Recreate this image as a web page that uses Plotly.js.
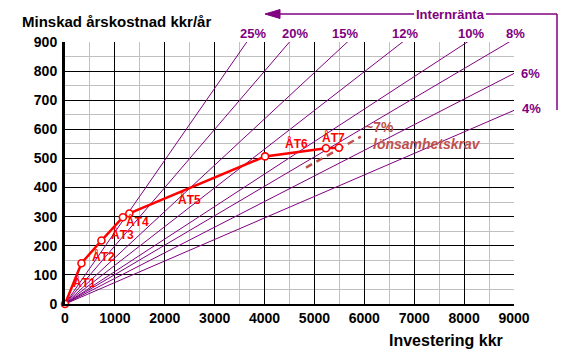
<!DOCTYPE html>
<html>
<head>
<meta charset="utf-8">
<script src="https://cdn.plot.ly/plotly-3.0.1.min.js"></script>
<style>html,body{margin:0;padding:0;background:#fff;}#chart{width:565px;height:360px;}</style>
</head>
<body>
<div id="chart"></div>
<script>
// ---- data ----
const invest = [0, 330, 730, 1160, 1290, 4010, 5230, 5490];      // kkr
const saving = [0, 140, 218, 298, 311, 507, 535, 537];           // kkr/år
const stepLabels = ['ÅT1', 'ÅT2', 'ÅT3', 'ÅT4', 'ÅT5', 'ÅT6', 'ÅT7'];
const rateLabels = ['25%', '20%', '15%', '12%', '10%', '8%', '6%', '4%'];
const rateSlopes = [0.247, 0.200, 0.159, 0.133, 0.1116, 0.1011, 0.088, 0.0739]; // kkr/år per kkr
const reqLabel = '~7%';
const reqText = 'lönsamhetskrav';
const reqSlope = 0.097;
const reqInvest = [4830, 5930];
const xTicks = [0, 1000, 2000, 3000, 4000, 5000, 6000, 7000, 8000, 9000];
const yTicks = [0, 100, 200, 300, 400, 500, 600, 700, 800, 900];
const xTitle = 'Investering kkr';
const yTitle = 'Minskad årskostnad kkr/år';
const arrowText = 'Internränta';

// ---- layout helpers (pixel -> paper) ----
const L = 65, R = 51, T = 42, B = 56, W = 565, H = 360;
const PW = W - L - R, PH = H - T - B;
const X = p => (p - L) / PW;
const Y = p => (H - B - p) / PH;

const purple = '#800080';
const red = '#ff0000';
const req = '#c0504d';
const FONT = 'Arial, "Liberation Sans", sans-serif';

const traces = [];
rateSlopes.forEach((s, i) => {
  traces.push({
    x: [0, 9000], y: [0, 9000 * s], mode: 'lines', type: 'scatter',
    line: {color: purple, width: 1}, hoverinfo: 'skip', showlegend: false
  });
});
traces.push({
  x: reqInvest, y: reqInvest.map(v => v * reqSlope), mode: 'lines', type: 'scatter',
  line: {color: req, width: 2.5, dash: '7px,5px'}, showlegend: false
});
traces.push({
  x: invest, y: saving, mode: 'lines+markers', type: 'scatter', cliponaxis: false,
  line: {color: red, width: 2.5},
  marker: {symbol: 'circle', size: 7, color: '#ffffff', line: {color: red, width: 1.6}},
  showlegend: false
});

const annotations = [];
const ann = (px, py, text, font, extra) => Object.assign({
  x: X(px), y: Y(py), xref: 'paper', yref: 'paper', xanchor: 'center', yanchor: 'middle',
  text: text, showarrow: false, font: font
}, extra || {});

const stepPos = [[400, 75], [768, 162], [1156, 239], [1457, 284], [2505, 359], [4643, 551], [5377, 573]];
stepLabels.forEach((t, i) => {
  annotations.push({x: stepPos[i][0], y: stepPos[i][1], xref: 'x', yref: 'y', xanchor: 'center', yanchor: 'middle',
    text: t, showarrow: false, font: {family: FONT, size: 12, color: red, weight: 'bold'}});
});
const ratePos = [[253, 33], [295, 33], [345, 33], [405, 33], [471, 33], [515, 33], [530, 73], [531, 108]];
rateLabels.forEach((t, i) => {
  annotations.push(ann(ratePos[i][0], ratePos[i][1], t, {family: FONT, size: 13, color: purple, weight: 'bold'}));
});
annotations.push(ann(379, 127, reqLabel, {family: FONT, size: 14, color: req, weight: 'bold'}));
annotations.push(ann(427, 144, reqText, {family: FONT, size: 14, color: req, weight: 'bold', style: 'italic'}));
annotations.push(ann(450, 14, arrowText, {family: FONT, size: 13, color: purple, weight: 'bold'}));
annotations.push(ann(446, 340, xTitle, {family: FONT, size: 16, color: '#000', weight: 'bold'}));

const shapes = [
  {type: 'line', xref: 'paper', yref: 'paper', x0: X(275), y0: Y(14), x1: X(414), y1: Y(14), line: {color: purple, width: 1.5}},
  {type: 'line', xref: 'paper', yref: 'paper', x0: X(486), y0: Y(14), x1: X(557), y1: Y(14), line: {color: purple, width: 1.5}},
  {type: 'line', xref: 'paper', yref: 'paper', x0: X(557), y0: Y(14), x1: X(557), y1: Y(110), line: {color: purple, width: 1.5}},
  {type: 'path', xref: 'paper', yref: 'paper',
   path: `M ${X(265)},${Y(14)} L ${X(280)},${Y(9.5)} L ${X(280)},${Y(18.5)} Z`,
   fillcolor: purple, line: {color: purple, width: 1}}
];

const layout = {
  width: W, height: H,
  margin: {l: L, r: R, t: T, b: B, pad: 0},
  paper_bgcolor: '#fff', plot_bgcolor: '#fff',
  title: {text: yTitle, x: 22 / W, xanchor: 'left', xref: 'container', y: 1 - 22 / H, yref: 'container', yanchor: 'middle',
    font: {family: FONT, size: 15, color: '#000', weight: 'bold'}},
  xaxis: {
    range: [0, 9000], tickvals: xTicks, ticktext: xTicks.map(String),
    showgrid: true, gridcolor: '#000', gridwidth: 1,
    minor: {dtick: 500, tick0: 0, showgrid: true, gridcolor: '#c0c0c0', gridwidth: 1},
    showline: true, linecolor: '#000', linewidth: 2, zeroline: false, ticks: '',
    tickfont: {family: FONT, size: 14, color: '#000', weight: 'bold'}, fixedrange: true
  },
  yaxis: {
    range: [0, 900], tickvals: yTicks, ticktext: yTicks.map(String),
    showgrid: true, gridcolor: '#000', gridwidth: 1,
    minor: {dtick: 50, tick0: 0, showgrid: true, gridcolor: '#c0c0c0', gridwidth: 1},
    showline: true, linecolor: '#000', linewidth: 3, zeroline: false, ticks: '', ticklabelstandoff: 2,
    tickfont: {family: FONT, size: 14, color: '#000', weight: 'bold'}, fixedrange: true
  },
  annotations: annotations,
  shapes: shapes,
  showlegend: false
};

Plotly.newPlot('chart', traces, layout, {staticPlot: true, displayModeBar: false});
</script>
</body>
</html>
